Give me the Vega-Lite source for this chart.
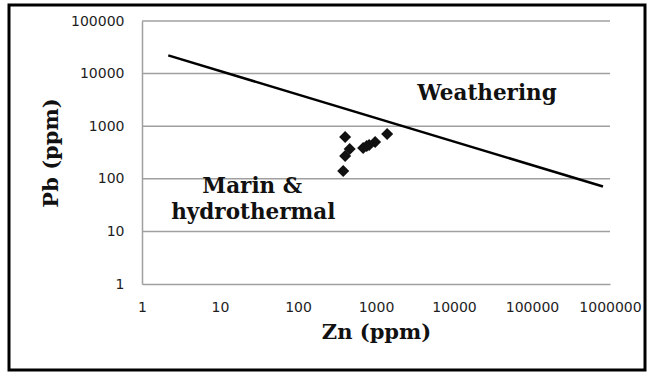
{
  "$schema": "https://vega.github.io/schema/vega-lite/v6.json",
  "width": 636,
  "height": 365,
  "autosize": {"type": "none"},
  "padding": {"left": 9, "top": 5, "right": 9, "bottom": 4},
  "background": "white",
  "view": {"stroke": "#000000", "strokeWidth": 3},
  "config": {
    "axis": {
      "grid": false,
      "ticks": false,
      "domainColor": "#a0a0a0",
      "domainWidth": 1.5,
      "labelFont": "DejaVu Sans",
      "labelFontSize": 14,
      "labelColor": "#1e1e1e",
      "labelFlush": false,
      "labelOverlap": false,
      "titleFont": "DejaVu Serif",
      "titleFontSize": 21,
      "titleFontWeight": "bold",
      "titleColor": "#111111"
    }
  },
  "datasets": {
    "gridlines": [
      {"pb": 10}, {"pb": 100}, {"pb": 1000}, {"pb": 10000}, {"pb": 100000}
    ],
    "boundary": [
      {"zn": 2.17, "pb": 22200},
      {"zn": 813000, "pb": 71.4}
    ],
    "samples": [
      {"zn": 402, "pb": 623},
      {"zn": 460, "pb": 369},
      {"zn": 402, "pb": 271},
      {"zn": 380, "pb": 141},
      {"zn": 684, "pb": 385},
      {"zn": 760, "pb": 420},
      {"zn": 817, "pb": 439},
      {"zn": 975, "pb": 501},
      {"zn": 1390, "pb": 711}
    ],
    "fields": [
      {"zn": 26550, "pb": 3150, "label": "Weathering"},
      {"zn": 25.9, "pb": 53.7, "label": "Marin &"},
      {"zn": 26.7, "pb": 17.2, "label": "hydrothermal"}
    ]
  },
  "layer": [
    {
      "data": {"name": "gridlines"},
      "mark": {"type": "rule", "color": "#a0a0a0", "strokeWidth": 1.5},
      "encoding": {
        "y": {
          "field": "pb",
          "type": "quantitative",
          "scale": {"type": "log", "domain": [1, 100000], "range": [279, 16], "nice": false},
          "axis": {
            "orient": "left",
            "offset": -133,
            "values": [1, 10, 100, 1000, 10000, 100000],
            "format": "d",
            "labelPadding": 18,
            "title": "Pb (ppm)",
            "titlePadding": 9
          }
        },
        "x": {
          "datum": 1,
          "type": "quantitative",
          "scale": {"type": "log", "domain": [1, 1000000], "range": [133, 601], "nice": false},
          "axis": {
            "orient": "bottom",
            "offset": -86,
            "values": [1, 10, 100, 1000, 10000, 100000, 1000000],
            "format": "d",
            "labelPadding": 16,
            "title": "Zn (ppm)",
            "titlePadding": 7
          }
        },
        "x2": {"datum": 1000000}
      }
    },
    {
      "data": {"name": "boundary"},
      "mark": {"type": "line", "color": "#000000", "strokeWidth": 2.5},
      "encoding": {
        "x": {"field": "zn", "type": "quantitative"},
        "y": {"field": "pb", "type": "quantitative"}
      }
    },
    {
      "data": {"name": "samples"},
      "mark": {"type": "point", "shape": "diamond", "filled": true, "color": "#111111", "size": 145, "opacity": 1},
      "encoding": {
        "x": {"field": "zn", "type": "quantitative"},
        "y": {"field": "pb", "type": "quantitative"}
      }
    },
    {
      "data": {"name": "fields"},
      "mark": {
        "type": "text",
        "font": "DejaVu Serif",
        "fontWeight": "bold",
        "fontSize": 21.5,
        "align": "center",
        "baseline": "alphabetic",
        "color": "#111111"
      },
      "encoding": {
        "x": {"field": "zn", "type": "quantitative"},
        "y": {"field": "pb", "type": "quantitative"},
        "text": {"field": "label"}
      }
    }
  ]
}
